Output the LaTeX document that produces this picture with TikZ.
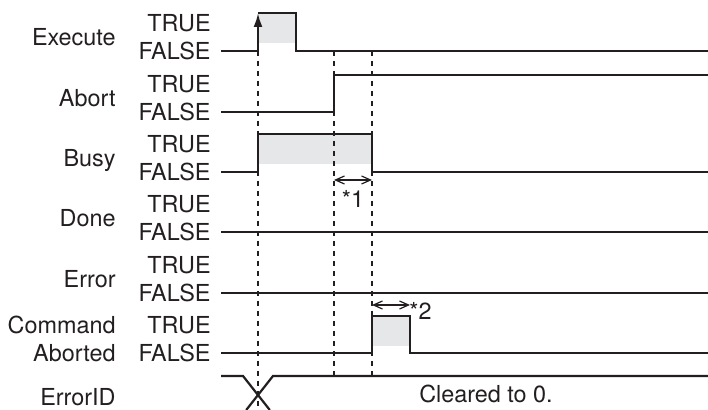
\documentclass[tikz,border=0pt]{standalone}
\usepackage{fontspec}
\setmainfont{TeX Gyre Heros}
\usetikzlibrary{arrows.meta}
\definecolor{ink}{RGB}{35,31,32}
\definecolor{truefill}{RGB}{230,231,232}

\begin{document}
\begin{tikzpicture}[x=0.5pt,y=-0.5pt,>=Latex,color=ink,
  sig/.style={line width=1.1pt},
  guide/.style={line width=0.6pt,dash pattern=on 2.5pt off 2.5pt},
  span/.style={line width=0.6pt,{Straight Barb[length=4.5pt,width=4pt]}-{Straight Barb[length=4.5pt,width=4pt]}},
  lbl/.style={anchor=base east,inner sep=0pt,font=\fontsize{11.7}{14}\selectfont},
  note/.style={anchor=base,inner sep=0pt,font=\fontsize{11.7}{14}\selectfont}]
\useasboundingbox (0,0) rectangle (708,410);

% event times
\coordinate (tA) at (258,51);
\coordinate (tB) at (334,51);
\coordinate (tC) at (372,51);

% shaded TRUE periods
\fill[truefill] (258,13) rectangle (296,43);
\fill[truefill] (258,134) rectangle (372,164);
\fill[truefill] (372,316) rectangle (410,346);

% signal names and levels
\foreach \name/\yf [count=\i] in {Execute/51,Abort/112,Busy/172,Done/232,Error/293}{
  \node[lbl] (name\i) at (116,\yf-5) {\name};
  \node[lbl] (true\i) at (211,\yf-19) {TRUE};
  \node[lbl] (false\i) at (211,\yf+9) {FALSE};
}
\node[lbl] (name6) at (116,334) {Command};
\node[lbl] (name6b) at (116,362) {Aborted};
\node[lbl] (true6) at (211,334) {TRUE};
\node[lbl] (false6) at (211,362) {FALSE};
\node[lbl] (name7) at (116,406) {ErrorID};

% guide lines
\coordinate (gA) at (258,410);
\coordinate (gB) at (334,376);
\coordinate (gC) at (372,376);
\draw[guide] (tA) -- (gA);
\draw[guide] (tB) -- (gB);
\draw[guide] (tC) -- (gC);

% Execute
\draw[sig] (221,51) -- (tA);
\draw[sig,-{Latex[length=7pt,width=4.5pt]}] (tA) -- (258,13);
\draw[sig] (258,13) -- (296,13) -- (296,51) -- (708,51);
% Abort
\draw[sig] (221,112) -- (334,112) -- (334,75) -- (708,75);
% Busy
\draw[sig] (221,172) -- (258,172) -- (258,134) -- (372,134) -- (372,172) -- (708,172);
% Done, Error
\draw[sig] (221,232) -- (708,232);
\draw[sig] (221,293) -- (708,293);
% CommandAborted
\draw[sig] (221,353) -- (372,353) -- (372,316) -- (410,316) -- (410,353) -- (708,353);
% ErrorID
\draw[sig] (221,376) -- (243,376) -- (269.8,410);
\draw[sig] (246.2,410) -- (273,376) -- (708,376);

% delays
\coordinate (d1a) at (334,180);
\coordinate (d1b) at (372,180);
\draw[span] (d1a) -- (d1b);
\node[note] (star1) at (353,208) {*1};
\coordinate (d2a) at (372,305);
\coordinate (d2b) at (410,305);
\draw[span] (d2a) -- (d2b);
\node[note,anchor=base west] (star2) at (409,320) {*2};

\node[note] (cleared) at (486,403) {Cleared to 0.};
\end{tikzpicture}
\end{document}
